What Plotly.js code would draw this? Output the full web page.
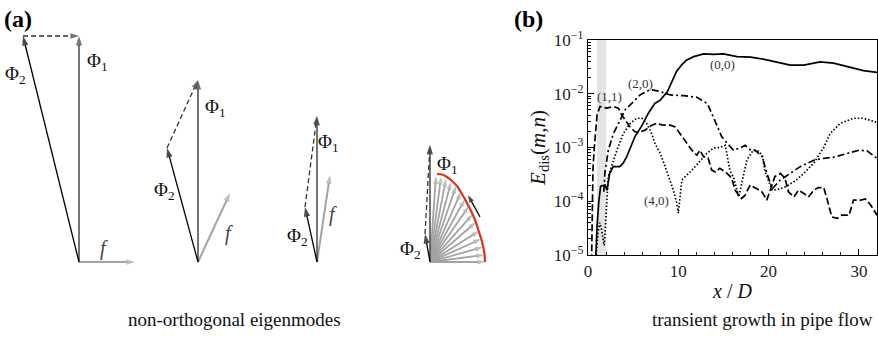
<!DOCTYPE html>
<html><head><meta charset="utf-8">
<script src="https://cdn.plot.ly/plotly-3.0.1.min.js"></script>
<style>html,body{margin:0;padding:0;background:#fff}#chart{width:878px;height:341px}</style>
</head><body><div id="chart"></div>
<script>
// ---------- Panel (b): transient growth data ----------
const x00 = [0.85,1.0,1.2,1.4,1.9,2.1,2.4,2.8,3.5,3.9,4.3,4.7,5.2,6.0,6.7,7.4,8.0,8.8,9.3,9.8,10.4,10.9,11.7,12.8,13.9,15.0,16.5,18.0,19.4,20.9,22.4,23.9,25.7,27.2,28.7,30.5,32.0];
const y00 = [8e-6,3.4e-5,1.0e-4,1.9e-4,2.0e-4,1.6e-4,3.3e-4,4.4e-4,4.4e-4,5.1e-4,6.8e-4,1.0e-3,1.6e-3,2.6e-3,4.4e-3,6.6e-3,7.6e-3,0.011,0.017,0.026,0.035,0.042,0.049,0.055,0.054,0.055,0.049,0.048,0.044,0.039,0.034,0.034,0.039,0.037,0.032,0.027,0.025];

const x11 = [0.38,0.42,0.46,0.55,0.7,0.85,1.0,1.33,2.07,2.8,3.36,3.74,4.1,4.66,5.2,5.58,6.3,7.06,7.6,8.35,9.1,9.65,10.2,10.94,11.5,12.05,12.4,12.8,13.3,13.7,14.1,14.6,15.4,15.9,16.3,16.7,17.0,17.4,17.96,18.7,19.26,19.8,20.2,20.7,21.3,21.8,22.2,22.8,23.3,23.9,24.4,25.0,25.5,26.1,26.5,27.0,27.6,28.1,28.9,29.4,30.2,30.7,31.3,31.8,32.0];
const y11 = [5e-6,2e-5,1e-4,4e-4,1e-3,2.5e-3,4e-3,5.8e-3,5.4e-3,5.8e-3,5.4e-3,4.0e-3,3.2e-3,2.4e-3,1.96e-3,1.9e-3,2.1e-3,2.6e-3,2.8e-3,2.6e-3,2.6e-3,2.4e-3,1.8e-3,1.2e-3,8.9e-4,7.2e-4,8.9e-4,6.7e-4,6.3e-4,3.8e-4,3.5e-4,4.1e-4,3.3e-4,2.7e-4,1.6e-4,1.3e-4,1.13e-4,1.3e-4,2.0e-4,1.7e-4,1.5e-4,1.05e-4,1.7e-4,2.9e-4,3.3e-4,2.7e-4,1.5e-4,1.2e-4,1.6e-4,1.4e-4,1.2e-4,1.6e-4,1.8e-4,1.8e-4,1.05e-4,5.1e-5,4.8e-5,5.5e-5,5.5e-5,1.05e-4,1.05e-4,1.1e-4,8.5e-5,6.0e-5,5.5e-5];

const x20 = [1.75,1.88,2.25,2.8,3.55,4.1,4.85,5.76,6.9,8.0,9.1,10.6,12.05,13.2,13.7,14.3,14.8,15.4,16.1,16.85,17.4,18.0,18.5,19.3,19.8,20.4,21.3,22.4,23.5,25.0,26.1,27.2,28.7,30.0,30.9,31.8,32.0];
const y20 = [1.5e-4,3.5e-4,8.9e-4,1.8e-3,3.2e-3,5.0e-3,6.6e-3,9.5e-3,0.012,0.011,9.5e-3,9.2e-3,8.6e-3,6.6e-3,4.3e-3,2.4e-3,1.6e-3,1.2e-3,9.0e-4,9.8e-4,1.1e-3,8.9e-4,8.9e-4,6.7e-4,3.3e-4,1.7e-4,2.5e-4,3.3e-4,4.4e-4,5.8e-4,6.3e-4,6.6e-4,7.8e-4,8.9e-4,8.7e-4,6.7e-4,6.3e-4];

const x40 = [0.9,1.1,1.3,1.5,1.7,1.8,1.95,2.07,2.25,2.6,3.2,3.9,4.66,5.4,5.95,6.5,7.06,7.4,8.0,8.54,8.9,9.46,9.83,10.0,10.4,10.75,11.3,11.86,12.4,13.16,13.9,14.6,15.2,15.7,16.1,16.7,17.1,17.6,18.3,18.9,19.3,19.6,20.4,21.3,22.0,23.1,23.9,25.0,26.1,26.8,27.9,29.4,30.5,31.8,32.0];
const y40 = [1e-5,2.5e-5,4e-5,3e-5,1.8e-5,1.5e-5,4e-5,1.05e-4,2.9e-4,4.4e-4,8.9e-4,1.8e-3,2.8e-3,3.5e-3,3.5e-3,2.8e-3,1.8e-3,1.2e-3,7.8e-4,4.4e-4,2.9e-4,1.6e-4,9.1e-5,6.0e-5,2.5e-4,2.9e-4,3.5e-4,4.4e-4,5.5e-4,7.8e-4,9.8e-4,1.0e-3,1.1e-3,3.8e-4,2.8e-4,1.2e-4,2.5e-4,5.9e-4,8.9e-4,8.5e-4,7.2e-4,3.6e-4,1.6e-4,1.7e-4,1.9e-4,2.5e-4,3.3e-4,5.1e-4,1.0e-3,1.8e-3,2.8e-3,3.5e-3,3.5e-3,3.0e-3,2.8e-3];

const modeLabels = ['(0,0)','(1,1)','(2,0)','(4,0)'];
const modeLabelX = [14.9, 2.4, 5.8, 7.6];
const modeLabelY = [0.035, 0.0088, 0.0155, 1.05e-4];
const shadedBand = [1.0, 2.0];

const xTickVals = [0,10,20,30];
const xTickText = ['0','10','20','30'];
const yTickVals = [1e-5,1e-4,1e-3,1e-2,1e-1];
const yTickText = ['10<sup>−5</sup>','10<sup>−4</sup>','10<sup>−3</sup>','10<sup>−2</sup>','10<sup>−1</sup>'];
const xMinorVals = [2,4,6,8,12,14,16,18,22,24,26,28,32];
const yMinorVals = [];
[-5,-4,-3,-2].forEach(e => { for (let m = 2; m <= 9; m++) yMinorVals.push(m * Math.pow(10, e)); });

// ---------- Panel (a): vector diagrams (diagram units, y measured upward from origin) ----------
const diagOrigins = [[79,262],[198,262],[317,262],[430,262]];
const phi1Vec = [[0,226],[0,182],[0,146],[0,117]];
const phi2Vec = [[-56,226],[-31,114],[-12,55],[-5,28]];
const fVec = [[56,0],[32,69],[13,87]];
const fanTips = [[6,86],[11,85],[16,83],[21,80],[26,76],[31,70],[35,63],[39,56],[43,48],[46,40],[49,31],[51,23],[53,15],[54,7],[55,0]];
const arcX = [7,12,17,22,27,32,37,41,45,48,51,53,54.5,55];
const arcY = [88,87.5,85,81,76,68,59,51,42,33,24,16,8,0];
const rotArrow = [[50,45],[38,67]];
const phi1LabelPos = [[97,62],[215,108],[328,143],[447,165]];
const phi2LabelPos = [[15,75],[164,191],[297,237],[410,250]];
const fLabelPos = [[104,248],[229,233],[333,214]];

const SERIF = '"Liberation Serif", "Times New Roman", serif';
const traces = [];
const ann = [];

function P(o, v) { return [o[0] + v[0], o[1] - v[1]]; }
function arrowTrace(a, b, color, width, head, dash) {
  return {x:[a[0], b[0]], y:[a[1], b[1]], xaxis:'x2', yaxis:'y2', mode:'lines+markers',
    line:{color:color, width:width, dash:dash || 'solid'},
    marker:{symbol:'arrow', size:[0, head], angleref:'previous', color:color, line:{width:0}},
    hoverinfo:'skip', showlegend:false};
}

// Fan (diagram 4) first so black arrows stay on top
const o4 = diagOrigins[3];
fanTips.forEach(t => traces.push(arrowTrace(o4, P(o4, t), '#a3a3a3', 1.8, 8)));
traces.push({x: arcX.map(v => o4[0] + v), y: arcY.map(v => o4[1] - v), xaxis:'x2', yaxis:'y2',
  mode:'lines', line:{color:'#e0301e', width:2.2, shape:'spline'}, hoverinfo:'skip', showlegend:false});

// f vectors
fVec.forEach((v, i) => traces.push(arrowTrace(diagOrigins[i], P(diagOrigins[i], v), '#a3a3a3', 2.0, 9)));

diagOrigins.forEach((o, i) => {
  const t1 = P(o, phi1Vec[i]), t2 = P(o, phi2Vec[i]);
  traces.push(arrowTrace(t2, t1, '#333', 1.3, 9, '5px,3px'));
  traces.push(arrowTrace(o, t1, '#3a3a3a', 1.4, 10));
  traces.push(arrowTrace(o, t2, '#000', 1.3, 10));
});
traces.push(arrowTrace(P(o4, rotArrow[0]), P(o4, rotArrow[1]), '#000', 1.3, 8));

phi1LabelPos.forEach(p => ann.push({xref:'x2', yref:'y2', x:p[0], y:p[1], text:'Φ<sub>1</sub>', showarrow:false,
  font:{family:SERIF, size:19, color:'#111'}}));
phi2LabelPos.forEach(p => ann.push({xref:'x2', yref:'y2', x:p[0], y:p[1], text:'Φ<sub>2</sub>', showarrow:false,
  font:{family:SERIF, size:19, color:'#111'}}));
fLabelPos.forEach(p => ann.push({xref:'x2', yref:'y2', x:p[0], y:p[1], text:'<i>f</i>', showarrow:false,
  font:{family:SERIF, size:20, color:'#444'}}));

// Panel (b) curves
traces.push({x:x00, y:y00, mode:'lines', line:{color:'#000', width:1.7}, name:'(0,0)', showlegend:false});
traces.push({x:x11, y:y11, mode:'lines', line:{color:'#000', width:1.7, dash:'7px,3px'}, name:'(1,1)', showlegend:false});
traces.push({x:x20, y:y20, mode:'lines', line:{color:'#000', width:1.7, dash:'7px,3px,2px,3px'}, name:'(2,0)', showlegend:false});
traces.push({x:x40, y:y40, mode:'lines', line:{color:'#000', width:1.7, dash:'1.5px,2px'}, name:'(4,0)', showlegend:false});

modeLabels.forEach((t, i) => ann.push({xref:'x', yref:'y', x:modeLabelX[i], y:Math.log10(modeLabelY[i]), text:t,
  showarrow:false, font:{family:SERIF, size:13, color:'#333'}}));

// panel letters and captions
ann.push({xref:'paper', yref:'paper', x:2/878, y:1-4/341, xanchor:'left', yanchor:'top', text:'<b>(a)</b>',
  showarrow:false, font:{family:SERIF, size:24, color:'#000'}});
ann.push({xref:'paper', yref:'paper', x:512/878, y:1-4/341, xanchor:'left', yanchor:'top', text:'<b>(b)</b>',
  showarrow:false, font:{family:SERIF, size:24, color:'#000'}});
ann.push({xref:'paper', yref:'paper', x:234/878, y:1-319/341, xanchor:'center', yanchor:'middle',
  text:'non-orthogonal eigenmodes', showarrow:false, font:{family:SERIF, size:19, color:'#111'}});
ann.push({xref:'paper', yref:'paper', x:762/878, y:1-319/341, xanchor:'center', yanchor:'middle',
  text:'transient growth in pipe flow', showarrow:false, font:{family:SERIF, size:19, color:'#111'}});

const layout = {
  width:878, height:341, margin:{l:0, r:0, t:0, b:0}, paper_bgcolor:'#fff', plot_bgcolor:'rgba(0,0,0,0)',
  showlegend:false, font:{family:SERIF, color:'#111'},
  xaxis:{domain:[588/878, 877/878], range:[0,32], anchor:'y', showline:true, linecolor:'#000', linewidth:1.2,
    mirror:true, ticks:'inside', ticklen:6, tickwidth:1, tickcolor:'#000', tickmode:'array',
    tickvals:xTickVals, ticktext:xTickText, showgrid:false, zeroline:false,
    minor:{tickmode:'array', tickvals:xMinorVals, ticks:'inside', ticklen:3, tickcolor:'#000', showgrid:false},
    tickfont:{family:SERIF, size:17, color:'#222'},
    title:{text:'<i>x</i> / <i>D</i>', font:{family:SERIF, size:20, color:'#111'}, standoff:4}},
  yaxis:{domain:[1-255/341, 1-40/341], type:'log', range:[-5,-1], anchor:'x', showline:true, linecolor:'#000',
    linewidth:1.2, mirror:true, ticks:'inside', ticklen:6, tickwidth:1, tickcolor:'#000', tickmode:'array',
    tickvals:yTickVals, ticktext:yTickText, showgrid:false, zeroline:false,
    minor:{tickmode:'array', tickvals:yMinorVals, ticks:'inside', ticklen:3, tickcolor:'#000', showgrid:false},
    tickfont:{family:SERIF, size:17, color:'#222'},
    title:{text:'<i>E</i><sub>dis</sub>(<i>m</i>,<i>n</i>)', font:{family:SERIF, size:21, color:'#111'}, standoff:2}},
  xaxis2:{domain:[0, 500/878], range:[0,500], anchor:'y2', visible:false, fixedrange:true},
  yaxis2:{domain:[0,1], range:[341,0], anchor:'x2', visible:false, fixedrange:true},
  shapes:[{type:'rect', xref:'x', yref:'y domain', x0:shadedBand[0], x1:shadedBand[1], y0:0, y1:1,
    fillcolor:'#e4e4e4', line:{width:0}, layer:'below'}],
  annotations: ann
};
Plotly.newPlot('chart', traces, layout, {staticPlot:true, displayModeBar:false});
</script></body></html>
